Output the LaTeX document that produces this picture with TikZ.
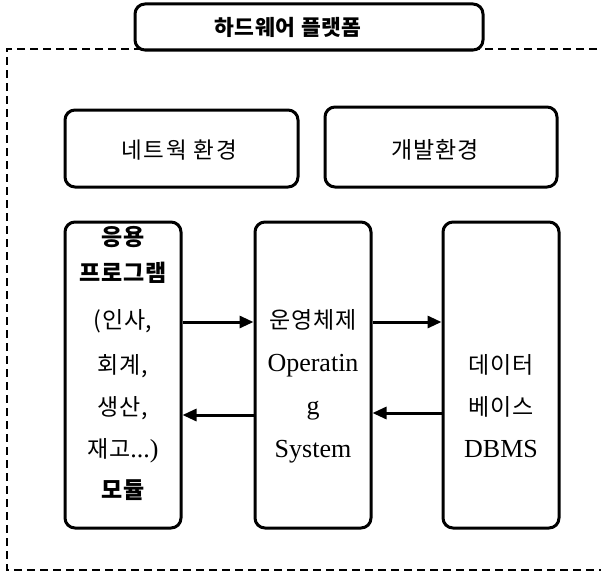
\documentclass[tikz,border=0pt]{standalone}
\usepackage{fontspec}
\setmainfont{Liberation Serif}
\newfontfamily\kr[LetterSpace=3]{Noto Sans CJK KR}
\newfontfamily\krw[LetterSpace=8]{Noto Sans CJK KR}
\usetikzlibrary{arrows.meta}
\newcommand{\kt}{\kr\fontsize{23}{26}\selectfont}
\newcommand{\ktb}{\kr\bfseries\fontsize{23}{26}\selectfont}
\tikzset{
  box/.style={draw=black, line width=3pt, rounded corners=10pt, fill=white, inner sep=0pt},
  txt/.style={align=center, font=\fontsize{26}{43}\selectfont, inner sep=0pt},
  arr/.style={line width=3pt, -{Triangle[length=14pt,width=12pt]}},
  frame/.style={line width=2.2pt, dash pattern=on 8pt off 5pt},
}
\begin{document}
\begin{tikzpicture}[x=1pt,y=-1pt]
\clip (0,0) rectangle (601,578);
% dashed frame
\draw[frame] (610,49) -- (7,49) -- (7,570) -- (610,570);
% title
\node[box, minimum width=348pt, minimum height=46pt] (titlebox) at (309,27) {};
\node[inner sep=0pt, font=\kr\bfseries\fontsize{21.5}{24}\selectfont] (title) at (288,27) {하드웨어 플랫폼};
% environment boxes
\node[box, minimum width=233pt, minimum height=77pt] (netbox) at (181.5,148.5) {};
\node[inner sep=0pt, font=\krw\fontsize{22.5}{26}\selectfont] (net) at (179,150) {네트웍 환경};
\node[box, minimum width=232pt, minimum height=80pt] (devbox) at (441,147) {};
\node[inner sep=0pt, font=\kt] (dev) at (435,150) {개발환경};
% tall boxes
\node[box, minimum width=116pt, minimum height=306pt] (app) at (123,375) {};
\node[box, minimum width=116pt, minimum height=306pt] (os) at (313,375) {};
\node[box, minimum width=116pt, minimum height=306pt] (db) at (501,375) {};
% texts
\node[txt, anchor=center] (apptxt) at (123,363)
  {{\ktb 응용}\\[-7pt]
   {\ktb 프로그램}\\[4pt]
   {\kt (인사,}\\[2pt]
   {\kt 회계,}\\[-1pt]
   {\kt 생산,}\\[-1pt]
   {\kt 재고}...)\\[-2pt]
   {\ktb 모듈}};
\node[txt, anchor=center] (ostxt) at (313,386)
  {{\kt 운영체제}\\Operatin\\g\\System};
\node[txt, anchor=center] (dbtxt) at (501,406)
  {{\kt 데이터}\\[-1pt]{\kt 베이스}\\[-1pt]DBMS};
% arrows
\draw[arr] (app.east |- 0,322) -- (os.west |- 0,322);
\draw[arr] (os.east |- 0,322) -- (db.west |- 0,322);
\draw[arr] (os.west |- 0,415) -- (app.east |- 0,415);
\draw[arr] (db.west |- 0,413) -- (os.east |- 0,413);
\end{tikzpicture}
\end{document}
